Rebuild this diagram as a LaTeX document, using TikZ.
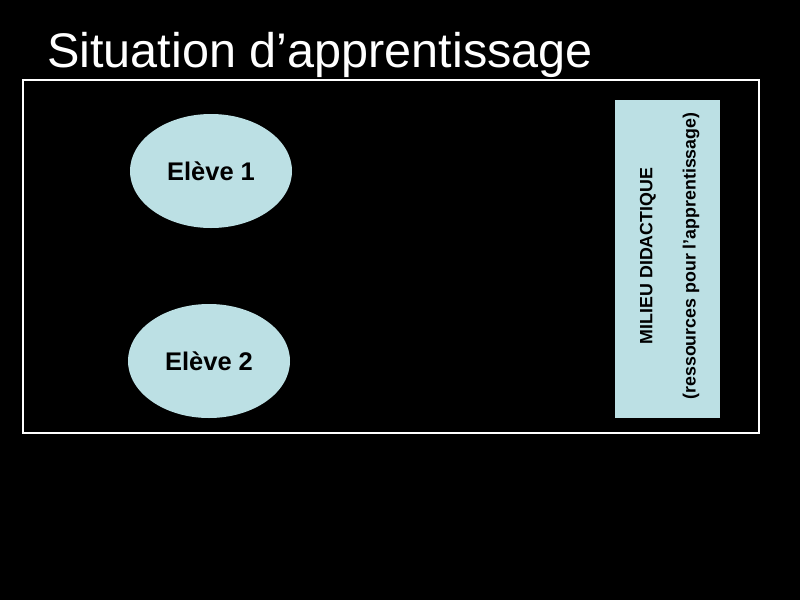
\documentclass[tikz,border=0pt]{standalone}
\usepackage{fontspec}
\setmainfont{Liberation Sans}
\usetikzlibrary{shapes.geometric}
\definecolor{paleblue}{HTML}{BCE0E4}
\begin{document}
\begin{tikzpicture}[x=1pt,y=-1pt,
  eleve/.style={ellipse,fill=paleblue,draw=none,minimum width=162pt,minimum height=114pt,inner sep=0pt,font=\bfseries\fontsize{25.5}{30}\selectfont,text=black},
  vtext/.style={rotate=90,font=\bfseries\fontsize{17.8}{21}\selectfont,text=black,inner sep=0pt}]
\useasboundingbox[fill=black] (0,0) rectangle (800,600);
\node[anchor=base west,text=white,font=\fontsize{48.6}{56}\selectfont,inner sep=0pt] (title) at (47,67) {Situation d’apprentissage};
\node[draw=white,line width=1.5pt,minimum width=736pt,minimum height=353pt,anchor=north west,inner sep=0pt] (frame) at (22,79) {};
\node[eleve] (e1) at (211,171) {Elève 1};
\node[eleve] (e2) at (209,361) {Elève 2};
\node[fill=paleblue,minimum width=105pt,minimum height=318pt,anchor=north west,inner sep=0pt] (milieu) at (615,100) {};
\node[vtext] (m1) at (648,256) {MILIEU DIDACTIQUE};
\node[vtext] (m2) at (691,256) {(ressources pour l’apprentissage)};
\end{tikzpicture}
\end{document}
